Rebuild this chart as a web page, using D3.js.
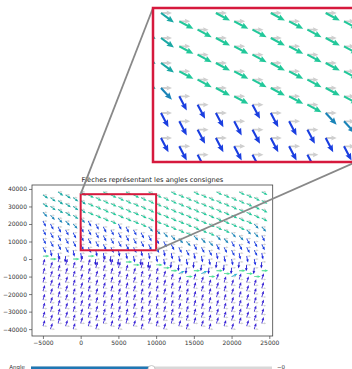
<!DOCTYPE html>
<html><head><meta charset="utf-8">
<script src="https://cdn.jsdelivr.net/npm/d3@7"></script>
<style>
body{margin:0;background:#fff}
svg{display:block;font-family:"DejaVu Sans",sans-serif}
</style>
</head><body>
<svg id="c" width="352" height="369"></svg>
<script>
// ---- sample grid (one column per x, rows staggered by a third of the row step) ----
const xCols = [-5000,-4000,-3000,-2000,-1000,0,1000,2000,3000,4000,5000,6000,7000,8000,9000,
               10000,11000,12000,13000,14000,15000,16000,17000,18000,19000,20000,21000,22000,23000,24000];
const colShift = [1,2,0,1,2,0,1,2,0,1,2,0,1,2,0,1,2,0,1,2,0,1,2,0,1,2,0,1,2,0];
const yTop = 38333, rowStep = 5000, shiftStep = 5000 / 3, nRows = 16;

// commanded angle per cell, one string per column, top row first
const angleCodes = [
  "kktbbbbhuuuuuuuu", // -5000
  "kktbbbdhuuuuuuuu",
  "kkktbbbduuuuuuuu",
  "kkktbbbvuuuuuuuu",
  "kkktbbdhuuuuuuuu",
  "kkktbbbduuuuuuuu", // 0
  "gggbbbbhuuuuuuuu",
  "gggbbbdvuuuuuuuu",
  "ggggbbbduuuuuuuu",
  "ggggbbbvuuuuuuuu",
  "gggbbbdvuuuuuuuu", // 5000
  "ggggbbbdhuuuuuuu",
  "ggggbbbdhuuuuuuu",
  "ggggbbdvuuuuuuuu",
  "ggggtbbdvuuuuuuu",
  "ggggtbbdhuuuuuuu", // 10000
  "ggggtbddhuuuuuuu",
  "gggggtbdvhuuuuuu",
  "gggggtbdvcuuuuuu",
  "gggggtbdvhuuuuuu",
  "gggggtbdvhuuuuuu", // 15000
  "gggggtbdvcuuuuuu",
  "gggggtbdvhuuuuuu",
  "gggggtbdvhuuuuuu",
  "gggggtbdvhuuuuuu",
  "ggggtbbdvcuuuuuu", // 20000
  "gggggtbdvhuuuuuu",
  "ggggtbbdvhuuuuuu",
  "gggttbbdvhuuuuuu",
  "ggggtbbdvhuuuuuu"  // 24000
];
const codeAngle = {g:-28, k:-36, t:-47, b:-62, d:-78, v:-95, h:0, c:25, u:72};

const xTicks = [-5000, 0, 5000, 10000, 15000, 20000, 25000];
const yTicks = [-40000, -30000, -20000, -10000, 0, 10000, 20000, 30000, 40000];
const xLimits = [-6450, 25450], yLimits = [-43917, 42250];

// zoomed window
const zoomX = [0, 10000], zoomY = [5000, 37000];
const insetX = [-437, 10437], insetY = [8533, 39333];

const titleText = "Flèches représentant les angles consignes";
const sliderLabel = "Angle", sliderRange = [-180, 180], sliderValue = 0, sliderText = "−0";

// ---- derived points ----
const points = [];
xCols.forEach((x, i) => {
  for (let j = 0; j < nRows; j++) {
    points.push({x, y: yTop - rowStep * j - shiftStep * colShift[i], a: codeAngle[angleCodes[i][j]]});
  }
});

const color = d3.scaleLinear()
  .domain([-95, -78, -62, -47, -36, -28, 0, 25, 72])
  .range(["#1a14d0", "#1524e2", "#1a3ee0", "#1a84b8", "#1aa8a4", "#22c89a", "#48e296", "#30b4d4", "#3b26d6"]);

const svg = d3.select("#c");
const fmt = v => d3.format("d")(v).replace("-", "−");

// quiver-style arrow polygon along +x
function arrowPath(L, w, hw, hl) {
  const s = Math.max(L - hl, 0);
  return `M0,${-w/2}L${s},${-w/2}L${s - hl*0.1},${-hw/2}L${L},0L${s - hl*0.1},${hw/2}L${s},${w/2}L0,${w/2}Z`;
}

function drawArrows(g, xs, ys, sz) {
  const gp = arrowPath(sz.gl, sz.gw, sz.ghw, sz.ghl);
  const cp = arrowPath(sz.cl, sz.w, sz.hw, sz.hl);
  g.selectAll("path.ref").data(points).join("path").attr("class", "ref")
    .attr("d", gp).attr("fill", "#cfcfcf")
    .attr("transform", d => `translate(${xs(d.x)},${ys(d.y)})`);
  g.selectAll("path.cmd").data(points).join("path").attr("class", "cmd")
    .attr("d", cp).attr("fill", d => color(d.a))
    .attr("transform", d => `translate(${xs(d.x)},${ys(d.y)}) rotate(${-d.a})`);
}

// ---- main axes ----
const M = {l: 32, r: 272.7, t: 185, b: 336};
const x = d3.scaleLinear(xLimits, [M.l, M.r]);
const y = d3.scaleLinear(yLimits, [M.b, M.t]);

svg.append("clipPath").attr("id", "mainClip").append("rect")
  .attr("x", M.l).attr("y", M.t).attr("width", M.r - M.l).attr("height", M.b - M.t);
const mainG = svg.append("g").attr("clip-path", "url(#mainClip)");
drawArrows(mainG, x, y, {gl: 4.5, gw: 0.7, ghw: 2.2, ghl: 2.2, cl: 6.5, w: 0.85, hw: 2.8, hl: 3});

svg.append("rect").attr("x", M.l).attr("y", M.t).attr("width", M.r - M.l).attr("height", M.b - M.t)
  .attr("fill", "none").attr("stroke", "#444").attr("stroke-width", 0.8);

const xAxis = svg.append("g").attr("transform", `translate(0,${M.b})`)
  .call(d3.axisBottom(x).tickValues(xTicks).tickFormat(fmt).tickSize(3).tickPadding(2));
const yAxis = svg.append("g").attr("transform", `translate(${M.l},0)`)
  .call(d3.axisLeft(y).tickValues(yTicks).tickFormat(fmt).tickSize(3).tickPadding(2));
[xAxis, yAxis].forEach(a => {
  a.select(".domain").remove();
  a.selectAll("line").attr("stroke", "#444").attr("stroke-width", 0.7);
  a.selectAll("text").attr("font-size", 6).attr("fill", "#333").attr("font-family", "DejaVu Sans");
});

svg.append("text").attr("x", (M.l + M.r) / 2).attr("y", 182).attr("text-anchor", "middle")
  .attr("font-size", 6.7).attr("fill", "#222").text(titleText);

// ---- marked region and connectors ----
const red = "#d6193d";
svg.append("rect").attr("x", x(zoomX[0])).attr("y", y(zoomY[1]))
  .attr("width", x(zoomX[1]) - x(zoomX[0])).attr("height", y(zoomY[0]) - y(zoomY[1]))
  .attr("fill", "none").attr("stroke", red).attr("stroke-width", 2);

const I = {l: 153, r: 356, t: 8, b: 162};
svg.append("line").attr("x1", x(zoomX[0])).attr("y1", y(zoomY[1])).attr("x2", I.l).attr("y2", I.t)
  .attr("stroke", "#888").attr("stroke-width", 1.8);
svg.append("line").attr("x1", x(zoomX[1])).attr("y1", y(zoomY[0])).attr("x2", I.r).attr("y2", I.b)
  .attr("stroke", "#888").attr("stroke-width", 1.8);

// ---- inset ----
const xi = d3.scaleLinear(insetX, [I.l, 352]);
const yi = d3.scaleLinear(insetY, [I.b, I.t]);
svg.append("rect").attr("x", I.l).attr("y", I.t).attr("width", I.r - I.l).attr("height", I.b - I.t).attr("fill", "#fff");
svg.append("clipPath").attr("id", "insetClip").append("rect")
  .attr("x", I.l).attr("y", I.t).attr("width", I.r - I.l).attr("height", I.b - I.t);
const insetG = svg.append("g").attr("clip-path", "url(#insetClip)");
drawArrows(insetG, xi, yi, {gl: 11, gw: 1.8, ghw: 5, ghl: 5, cl: 16, w: 2.1, hw: 6.2, hl: 6.5});
svg.append("rect").attr("x", I.l).attr("y", I.t).attr("width", I.r - I.l).attr("height", I.b - I.t)
  .attr("fill", "none").attr("stroke", red).attr("stroke-width", 2.5);

// ---- slider ----
const sx = d3.scaleLinear(sliderRange, [31, 272]);
svg.append("rect").attr("x", sx(sliderRange[0])).attr("y", 366.5).attr("width", sx(sliderRange[1]) - sx(sliderRange[0]))
  .attr("height", 5).attr("fill", "#d8d8d8");
svg.append("rect").attr("x", sx(sliderRange[0])).attr("y", 366.5).attr("width", sx(sliderValue) - sx(sliderRange[0]))
  .attr("height", 5).attr("fill", "#1f77b4");
svg.append("circle").attr("cx", sx(sliderValue)).attr("cy", 369).attr("r", 3.5)
  .attr("fill", "#fff").attr("stroke", "#bbb").attr("stroke-width", 0.8);
svg.append("text").attr("x", 25).attr("y", 369).attr("text-anchor", "end").attr("font-size", 5.5)
  .attr("fill", "#333").text(sliderLabel);
svg.append("text").attr("x", 277).attr("y", 369).attr("font-size", 5.5).attr("fill", "#333").text(sliderText);
</script>
</body></html>
